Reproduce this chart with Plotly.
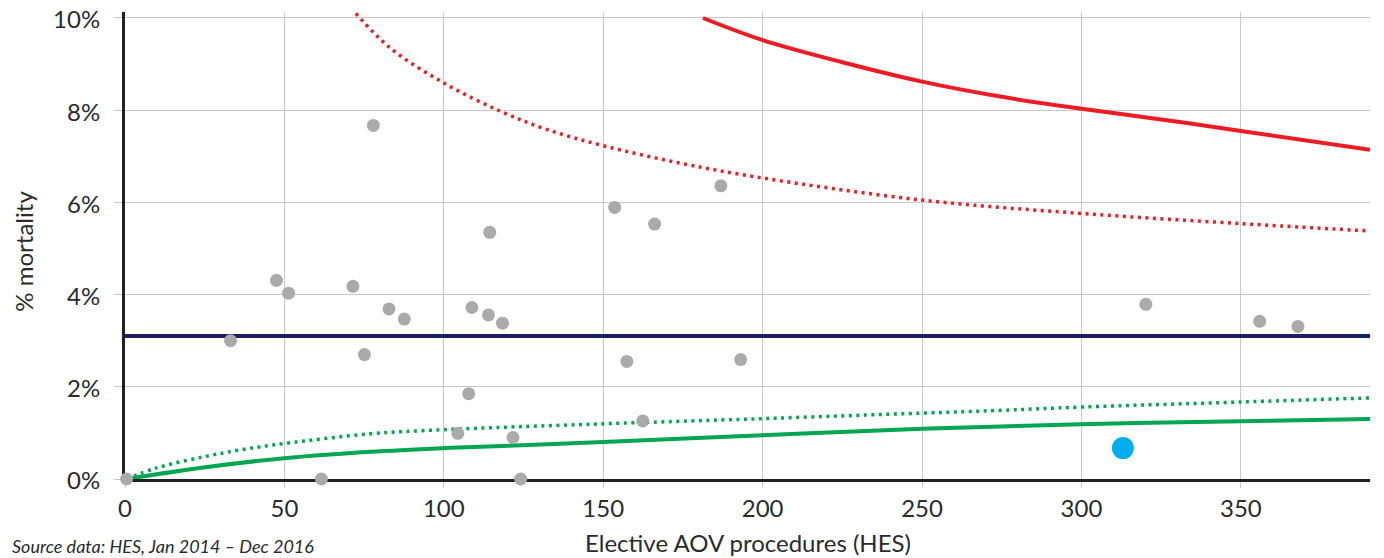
import plotly.graph_objects as go

# Hospital data points (elective AOV procedures, % mortality)
hosp_n = [0.5, 33.1, 47.5, 51.3, 61.6, 67.5, 71.5, 75.1, 77.9, 82.8, 87.6,
          104.4, 107.8, 108.8, 114.0, 114.4, 118.4, 121.7, 124.1,
          153.6, 157.4, 162.4, 166.1, 186.9, 193.1, 320.2, 355.9, 367.9]
hosp_mort = [0.0, 3.0, 4.31, 4.03, 0.0, -0.03, 4.18, 2.70, 7.67, 3.69, 3.47,
             0.99, 1.85, 3.72, 3.56, 5.35, 3.38, 0.90, 0.0,
             5.89, 2.55, 1.26, 5.53, 6.36, 2.59, 3.79, 3.42, 3.31]

# Highlighted unit
focus_n = [313.0]
focus_mort = [0.67]

# National average
avg_mort = 3.1

# Funnel limits
upper998_n = [181.3, 200, 225, 250, 275, 300, 325, 350, 390.5]
upper998_v = [10.0, 9.52, 9.04, 8.62, 8.29, 8.03, 7.80, 7.55, 7.14]

upper95_n = [72.4, 83, 100, 118, 132, 150, 175, 200, 250, 300, 350, 390.5]
upper95_v = [10.10, 9.36, 8.59, 7.97, 7.59, 7.23, 6.84, 6.53, 6.05, 5.76, 5.54, 5.38]

lower95_n = [0.5, 9.9, 24.6, 37, 50, 77, 100, 147, 200, 250, 275, 300, 350, 390.5]
lower95_v = [0.0, 0.24, 0.48, 0.64, 0.77, 0.98, 1.07, 1.19, 1.31, 1.43, 1.49, 1.56, 1.67, 1.76]

lower998_n = [0.5, 24.6, 50, 77, 100, 150, 200, 250, 300, 350, 390.5]
lower998_v = [0.0, 0.25, 0.45, 0.59, 0.67, 0.80, 0.95, 1.09, 1.19, 1.25, 1.30]

x_ticks = [0, 50, 100, 150, 200, 250, 300, 350]
y_ticks = [0, 2, 4, 6, 8, 10]
y_tick_labels = ["0%", "2%", "4%", "6%", "8%", "10%"]

RED = "#ED1C24"
GREEN = "#00A651"
NAVY = "#1B1F66"
GREY = "#AAAAAA"
BLUE = "#00AEEF"
TXT = "#2B2B2B"
AXIS = "#231F20"
FONT = "Lato"

fig = go.Figure()

fig.add_trace(go.Scatter(x=[0, 390.5], y=[avg_mort, avg_mort], mode="lines",
                         line=dict(color=NAVY, width=4), hoverinfo="skip"))
fig.add_trace(go.Scatter(x=upper998_n, y=upper998_v, mode="lines",
                         line=dict(color=RED, width=4, shape="spline")))
fig.add_trace(go.Scatter(x=upper95_n, y=upper95_v, mode="lines",
                         line=dict(color=RED, width=3.5, shape="spline", dash="3px,4.5px")))
fig.add_trace(go.Scatter(x=lower998_n, y=lower998_v, mode="lines",
                         line=dict(color=GREEN, width=4, shape="spline")))
fig.add_trace(go.Scatter(x=lower95_n, y=lower95_v, mode="lines",
                         line=dict(color=GREEN, width=3.5, shape="spline", dash="3px,4.5px")))
fig.add_trace(go.Scatter(x=hosp_n, y=hosp_mort, mode="markers", cliponaxis=False,
                         marker=dict(color=GREY, size=13, line=dict(width=0))))
fig.add_trace(go.Scatter(x=focus_n, y=focus_mort, mode="markers", cliponaxis=False,
                         marker=dict(color=BLUE, size=22, line=dict(width=0))))

# page body has an 8px margin: figure is sized/offset to compensate
fig.update_layout(
    width=1376, height=550,
    margin=dict(l=117, r=14, t=4, b=79, autoexpand=False),
    paper_bgcolor="white", plot_bgcolor="white",
    showlegend=False,
    font=dict(family=FONT, size=24, color=TXT),
)
fig.update_xaxes(range=[0, 390.5], tickvals=x_ticks, showgrid=True,
                 gridcolor="#C8C8C8", gridwidth=1, zeroline=False,
                 showline=True, linecolor=AXIS, linewidth=3,
                 ticks="outside", ticklen=6, tickcolor="#C8C8C8", tickwidth=1,
                 ticklabelstandoff=0, layer="below traces", automargin=False,
                 ticklabeloverflow="allow",
                 tickfont=dict(family=FONT, size=24, color=TXT))
fig.update_yaxes(range=[0, 10.13], tickvals=y_ticks, ticktext=y_tick_labels,
                 showgrid=True, gridcolor="#C8C8C8", gridwidth=1, zeroline=False,
                 showline=True, linecolor=AXIS, linewidth=3,
                 ticks="outside", ticklen=8, tickcolor="#C8C8C8", tickwidth=1,
                 ticklabelstandoff=9, ticklabelshift=2, layer="below traces",
                 automargin=False, ticklabeloverflow="allow",
                 tickfont=dict(family=FONT, size=24, color=TXT))

fig.add_annotation(text="Elective AOV procedures (HES)", xref="paper", yref="paper",
                   x=0.5, y=-0.135, xanchor="center", yanchor="middle", showarrow=False,
                   font=dict(family=FONT, size=24, color=TXT))
fig.add_annotation(text="% mortality", xref="paper", yref="paper",
                   x=-0.0815, y=0.488, xanchor="center", yanchor="middle", textangle=-90,
                   showarrow=False, font=dict(family=FONT, size=24, color=TXT))
fig.add_annotation(text="<i>Source data: HES, Jan 2014 – Dec 2016</i>", xref="paper", yref="paper",
                   x=-0.0924, y=-0.1435, xanchor="left", yanchor="middle", showarrow=False,
                   font=dict(family=FONT, size=18, color=TXT))

fig.write_html("out.html")
